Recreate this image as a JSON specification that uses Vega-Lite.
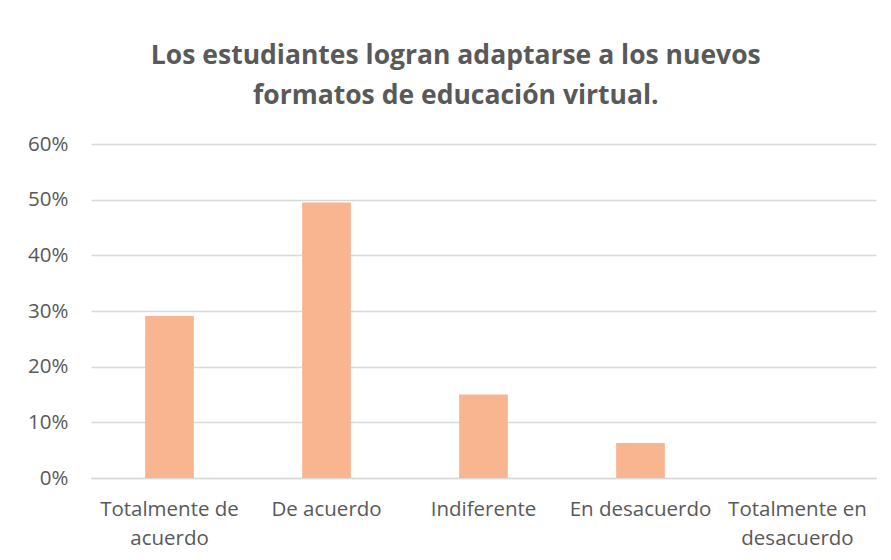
{
  "$schema": "https://vega.github.io/schema/vega-lite/v6.json",
  "autosize": {"type": "none"},
  "width": 785,
  "height": 334,
  "padding": {"left": 91, "top": 144, "right": 15, "bottom": 82},
  "background": "white",
  "title": {
    "text": ["Los estudiantes logran adaptarse a los nuevos", "formatos de educación virtual."],
    "font": "Open Sans",
    "fontSize": 26.5,
    "fontWeight": "bold",
    "color": "#595959",
    "lineHeight": 40,
    "anchor": "middle",
    "frame": "bounds",
    "offset": 25,
    "dx": 4
  },
  "data": {
    "values": [
      {"categoria": "Totalmente de acuerdo", "porcentaje": 0.291},
      {"categoria": "De acuerdo", "porcentaje": 0.495},
      {"categoria": "Indiferente", "porcentaje": 0.15},
      {"categoria": "En desacuerdo", "porcentaje": 0.063},
      {"categoria": "Totalmente en desacuerdo", "porcentaje": 0.0}
    ]
  },
  "mark": {"type": "bar", "color": "#F8B58F"},
  "encoding": {
    "x": {
      "field": "categoria",
      "type": "nominal",
      "sort": null,
      "scale": {"paddingInner": 0.69, "paddingOuter": 0.345},
      "axis": {
        "title": null,
        "labelAngle": 0,
        "labelFont": "Open Sans",
        "labelFontSize": 20.5,
        "labelColor": "#595959",
        "labelPadding": 21,
        "labelLineHeight": 29,
        "labelLimit": 200,
        "labelOverlap": false,
        "ticks": false,
        "domainColor": "#D9D9D9",
        "domainWidth": 1.5,
        "labelExpr": "datum.value == 'Totalmente de acuerdo' ? ['Totalmente de', 'acuerdo'] : datum.value == 'Totalmente en desacuerdo' ? ['Totalmente en', 'desacuerdo'] : datum.value"
      }
    },
    "y": {
      "field": "porcentaje",
      "type": "quantitative",
      "scale": {"domain": [0, 0.6], "nice": false},
      "axis": {
        "title": null,
        "format": ".0%",
        "values": [0, 0.1, 0.2, 0.3, 0.4, 0.5, 0.6],
        "labelFont": "Open Sans",
        "labelFontSize": 20.5,
        "labelColor": "#595959",
        "labelPadding": 23,
        "ticks": false,
        "domain": false,
        "gridColor": "#D9D9D9",
        "gridWidth": 1.5
      }
    }
  },
  "config": {"view": {"stroke": null}}
}
